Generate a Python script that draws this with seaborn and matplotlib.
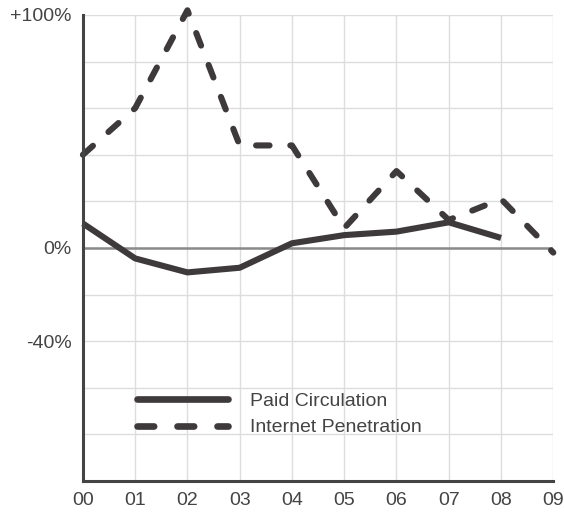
import matplotlib
matplotlib.use("Agg")
import matplotlib.pyplot as plt
import seaborn as sns
import numpy as np

# chart data (percent change)
years = ["00", "01", "02", "03", "04", "05", "06", "07", "08", "09"]
paid_circulation = [10.5, -4.5, -10.5, -8.5, 2, 5.5, 7, 11, 4.3]
internet_penetration = [40, 60, 102, 44, 44, 8.5, 33, 12, 21, -2]
y_labels = {100: "+100%", 0: "0%", -40: "-40%"}

sns.set_style("white")
plt.rcParams["font.family"] = ["Liberation Sans", "DejaVu Sans"]

line_col = "#3e3a3b"
text_col = "#444444"

fig, ax = plt.subplots(figsize=(5.64, 5.16), dpi=100)
fig.subplots_adjust(left=0.147, right=0.981, bottom=0.068, top=0.971)

x_paid = np.arange(len(paid_circulation))
x_net = np.arange(len(internet_penetration))

sns.lineplot(x=x_paid, y=paid_circulation, ax=ax, color=line_col, lw=4.4,
             solid_capstyle="butt", label="Paid Circulation", clip_on=False)
sns.lineplot(x=x_net, y=internet_penetration, ax=ax, color=line_col, lw=4.4,
             dashes=False, label="Internet Penetration", clip_on=False)
dash_line = ax.get_lines()[1]
dash_line.set_dashes((2.2, 3.4))
dash_line.set_dash_capstyle("round")

ax.set_xlim(0, 9)
ax.set_ylim(-100, 100)
ax.set_xticks(range(len(years)))
ax.set_xticklabels(years)
yt = list(range(-100, 101, 20))
ax.set_yticks(yt)
ax.set_yticklabels([y_labels.get(v, "") for v in yt])
ax.tick_params(axis="both", length=0, labelsize=14, colors=text_col, pad=8)

ax.grid(True, color="#dddddd", lw=1)
ax.set_axisbelow(True)
ax.axhline(0, color="#8a8a8a", lw=1.8, zorder=1.5)

for s in ["top", "right"]:
    ax.spines[s].set_visible(False)
for s in ["left", "bottom"]:
    ax.spines[s].set_color("#444444")
    ax.spines[s].set_linewidth(2.2)

leg = ax.legend(loc="upper left", bbox_to_anchor=(0.115, 0.19), frameon=False,
                borderpad=0, borderaxespad=0, handlelength=4.7, handletextpad=1.1,
                labelspacing=0.45, fontsize=14)
for t in leg.get_texts():
    t.set_color(text_col)
for h in leg.get_lines():
    h.set_linewidth(4.8)
    h.set_solid_capstyle("round")
leg.get_lines()[1].set_dashes((2.5, 3.5))
leg.get_lines()[1].set_dash_capstyle("round")

fig.savefig("out.png", dpi=100)
